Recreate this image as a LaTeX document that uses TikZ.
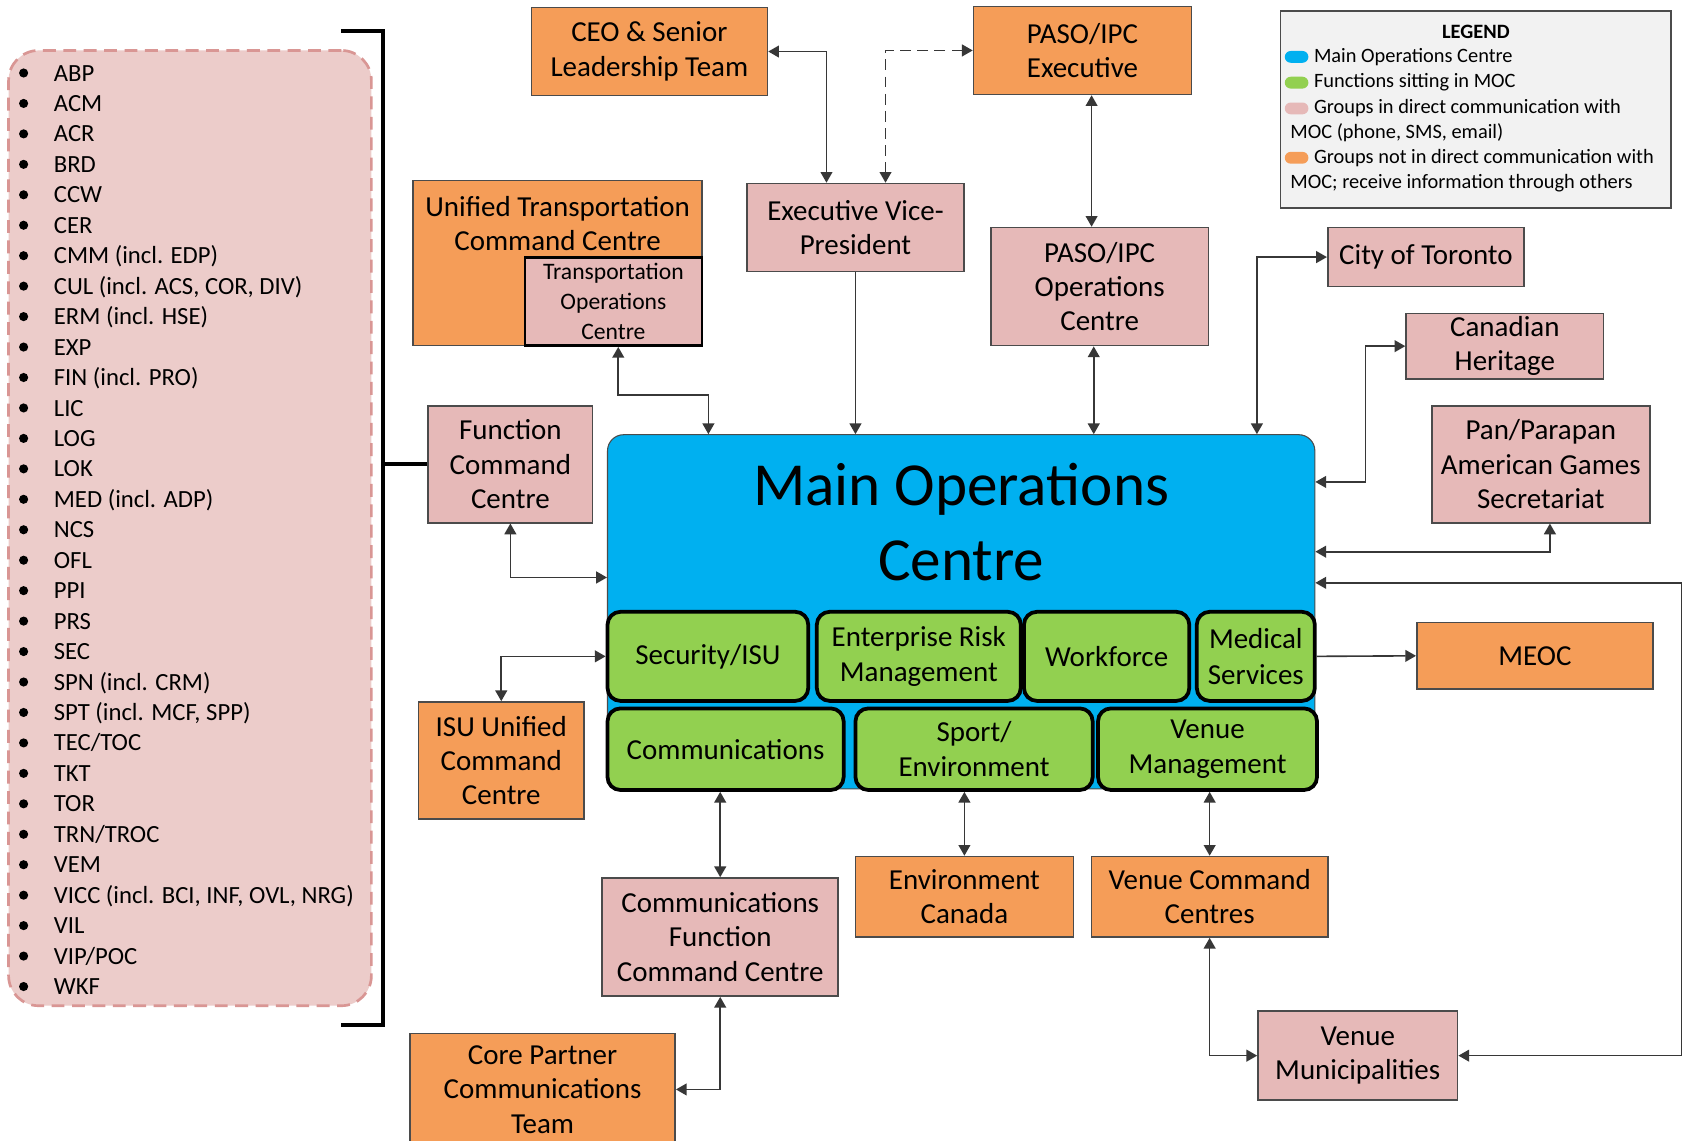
\documentclass[tikz,border=0pt]{standalone}
\usepackage{fontspec}
\setmainfont{Carlito}
\usetikzlibrary{arrows.meta,calc}

\definecolor{orangebox}{RGB}{245,157,88}
\definecolor{pinkbox}{RGB}{230,185,184}
\definecolor{listfill}{RGB}{236,204,202}
\definecolor{listedge}{RGB}{217,150,148}
\definecolor{mocblue}{RGB}{0,176,240}
\definecolor{fgreen}{RGB}{146,208,80}
\definecolor{legfill}{RGB}{242,242,242}
\definecolor{edgecol}{RGB}{75,75,75}
\definecolor{wirecol}{RGB}{55,55,55}

\tikzset{
  sz/.style 2 args={minimum width=#1pt, minimum height=#2pt},
  box/.style={draw=edgecol, line width=1.5pt, inner sep=0pt, align=center,
              font=\fontsize{27}{32}\selectfont},
  obox/.style={box, fill=orangebox},
  pbox/.style={box, fill=pinkbox},
  gbox/.style={draw=black, line width=3.5pt, fill=fgreen, rounded corners=12pt,
               inner sep=0pt, align=center, font=\fontsize{27}{33}\selectfont},
  wire/.style={draw=wirecol, line width=1.5pt},
  both/.style={wire, {Triangle[length=10pt,width=11pt]}-{Triangle[length=10pt,width=11pt]}},
  single/.style={wire, -{Triangle[length=10pt,width=11pt]}},
  bracket/.style={draw=black, line width=4pt},
  listtext/.style={anchor=base west, inner sep=0pt, font=\fontsize{23}{28}\selectfont},
  legtext/.style={anchor=west, inner sep=0pt, font=\fontsize{19}{23}\selectfont},
  pill/.style={inner sep=0pt, minimum width=22pt, minimum height=11pt, rounded corners=5.5pt},
}

\begin{document}
\begin{tikzpicture}[x=1pt,y=-1pt]
\useasboundingbox[fill=white] (0,0) rectangle (1568,1063);

% ---- list of functions ----
\node[draw=listedge, fill=listfill, dash pattern=on 12pt off 7pt, line width=2.5pt,
      rounded corners=28pt, sz={338}{890}] (list) at (177,492) {};
\foreach \t [count=\i from 0] in {ABP, ACM, ACR, BRD, CCW, CER, CMM (incl. EDP),
    {CUL (incl. ACS, COR, DIV)}, ERM (incl. HSE), EXP, FIN (incl. PRO), LIC, LOG, LOK,
    MED (incl. ADP), NCS, OFL, PPI, PRS, SEC, SPN (incl. CRM), {SPT (incl. MCF, SPP)},
    TEC/TOC, TKT, TOR, TRN/TROC, VEM, {VICC (incl. BCI, INF, OVL, NRG)}, VIL, VIP/POC, WKF} {
  \node[circle, fill=black, inner sep=0pt, minimum size=8.5pt] (dot\i) at (22,{68+28.37*\i}) {};
  \node[listtext] (item\i) at (50,{75.5+28.37*\i}) {\t};
}
\draw[bracket] (318,29) -- (357,29) -- (357,955) -- (318,955);

% ---- top row ----
\node[obox, sz={220}{82}] (ceo) at (605,48) {CEO \& Senior\\Leadership Team};
\node[obox, sz={203}{82}] (pasoexec) at (1008.5,47) {PASO/IPC\\Executive};

\node[obox, sz={269}{154}] (utcc) at (519.5,245) {};
\node[align=center, inner sep=0pt, font=\fontsize{27}{32}\selectfont] (utcctext) at (519.5,208)
  {Unified Transportation\\Command Centre};
\node[pbox, draw=black, line width=2.5pt, sz={165}{82}, font=\fontsize{22}{28}\selectfont]
  (toc) at (571.5,281) {Transportation\\Operations\\Centre};

\node[pbox, sz={202}{82}] (evp) at (797,212) {Executive Vice-\\President};
\node[pbox, sz={203}{110}] (pasoops) at (1024.5,267) {PASO/IPC\\Operations\\Centre};
\node[pbox, sz={183}{55}] (toronto) at (1328.5,239.5) {City of Toronto};
\node[pbox, sz={184}{61}] (heritage) at (1402,322.5) {Canadian\\Heritage};
\node[pbox, sz={203}{109}] (panam) at (1435.5,432.5) {Pan/Parapan\\American Games\\Secretariat};
\node[pbox, sz={153}{109}] (fcc) at (475.5,432.5) {Function\\Command\\Centre};
\draw[bracket] (fcc.west) -- ++(-42,0);

% ---- main operations centre ----
\node[draw=edgecol, line width=1pt, fill=mocblue, rounded corners=15pt, sz={659}{330}]
  (moc) at (895.5,570) {};
\node[align=center, inner sep=0pt, font=\fontsize{57}{70}\selectfont] (moctitle) at (895.5,486)
  {Main Operations\\Centre};

\node[gbox, sz={187}{83}] (sec) at (659.5,611.5) {Security/ISU};
\node[gbox, sz={190}{83}] (erm) at (856,611.5) {Enterprise Risk\\Management};
\node[gbox, sz={154}{83}] (wf) at (1031,611.5) {Workforce};
\node[gbox, sz={110}{83}] (med) at (1170,611.5) {Medical\\Services};
\node[gbox, sz={220}{76}] (comm) at (676,698) {Communications};
\node[gbox, sz={221}{76}] (sport) at (907.5,698) {Sport/\\Environment};
\node[gbox, sz={204}{76}] (venue) at (1125,698) {Venue\\Management};

% ---- lower boxes ----
\node[obox, sz={220}{62}] (meoc) at (1430,611) {MEOC};
\node[obox, sz={154}{109}] (isu) at (467,708.5) {ISU Unified\\Command\\Centre};
\node[obox, sz={203}{75}] (envc) at (898.5,835.5) {Environment\\Canada};
\node[obox, sz={220}{75}] (vcc) at (1127,835.5) {Venue Command\\Centres};
\node[pbox, sz={220}{110}] (cfcc) at (671,873) {Communications\\Function\\Command Centre};
\node[obox, sz={247}{104}] (core) at (505.5,1015) {Core Partner\\Communications\\Team};
\node[pbox, sz={186}{83}] (vmun) at (1265,983.5) {Venue\\Municipalities};

% ---- connectors ----
\draw[both] (ceo.east) -| ([xshift=-27pt]evp.north);
\draw[both, dash pattern=on 10pt off 6pt] (pasoexec.west) -| ([xshift=28pt]evp.north);
\draw[both] ([xshift=8.5pt]pasoexec.south) -- ([xshift=-7.5pt]pasoops.north);
\draw[single] (evp.south) -- (evp.south |- moc.north);
\coordinate (opsdown) at ([xshift=-5.5pt]pasoops.south);
\draw[both] (opsdown) -- (opsdown |- moc.north);
\draw[both] (toronto.west) -| ([xshift=275.5pt]moc.north);
\draw[both] (heritage.west) -- ++(-37,0) |- ([yshift=121pt]moc.east);
\draw[both] ([xshift=8.5pt]panam.south) |- ([yshift=56pt]moc.east);
\draw[both] (vmun.east) -- ++(208,0) |- ([yshift=27pt]moc.east);
\draw[single] (med.east) -- (meoc.west);
\draw[both] ([xshift=4.5pt]toc.south) -- ++(0,45) -| ([xshift=-235.5pt]moc.north);
\draw[both] (fcc.south) |- ([yshift=32pt]moc.west);
\draw[both] (sec.west) -| (isu.north);
\draw[both] (cfcc.north |- comm.south) -- (cfcc.north);
\draw[both] (envc.north |- sport.south) -- (envc.north);
\draw[both] (vcc.north |- venue.south) -- (vcc.north);
\draw[both] (vcc.south) |- (vmun.west);
\draw[both] (cfcc.south) |- (core.east);

% ---- legend ----
\node[draw=edgecol, line width=1.5pt, fill=legfill, sz={364}{184}] (legend) at (1375,102) {};
\node[inner sep=0pt, font=\bfseries\fontsize{19}{23}\selectfont] (legtitle) at (1375,30) {LEGEND};
\node[pill, fill=mocblue] (key1) at (1208,53) {};
\node[pill, fill=fgreen] (key2) at (1208,77) {};
\node[pill, fill=pinkbox] (key3) at (1208,101) {};
\node[pill, fill=orangebox] (key4) at (1208,147) {};
\node[legtext] (leg1) at (1224,53) {Main Operations Centre};
\node[legtext] (leg2) at (1224,77) {Functions sitting in MOC};
\node[legtext] (leg3) at (1224,101) {Groups in direct communication with};
\node[legtext] (leg3b) at (1202,124) {MOC (phone, SMS, email)};
\node[legtext] (leg4) at (1224,147) {Groups not in direct communication with};
\node[legtext] (leg4b) at (1202,171) {MOC; receive information through others};
\end{tikzpicture}
\end{document}
